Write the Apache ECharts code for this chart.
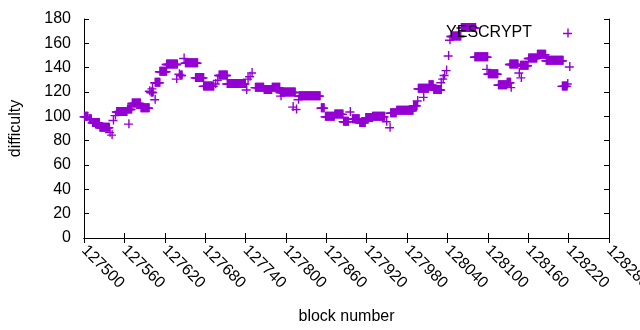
<!DOCTYPE html>
<html>
<head>
<meta charset="utf-8">
<script src="https://cdn.jsdelivr.net/npm/echarts@6/dist/echarts.min.js"></script>
<style>
  html, body { margin: 0; padding: 0; background: #fff; }
  #chart { width: 640px; height: 330px; }
</style>
</head>
<body>
<div id="chart"></div>
<script>
// tick labels
const xTicks = [127500, 127560, 127620, 127680, 127740, 127800, 127860, 127920, 127980, 128040, 128100, 128160, 128220, 128280]
const yTicks = [0, 20, 40, 60, 80, 100, 120, 140, 160, 180]

// runs of consecutive blocks with the same difficulty (first block, last block, value)
const runStart = [127500, 127507, 127512, 127523, 127538, 127541, 127543, 127546, 127548, 127564, 127566, 127571, 127584, 127597, 127599, 127601, 127605, 127605, 127612, 127622, 127637, 127641, 127643, 127648, 127650, 127665, 127677, 127695, 127698, 127700, 127712, 127741, 127743, 127746, 127749, 127754, 127767, 127779, 127792, 127791, 127810, 127815, 127818, 127819, 127852, 127858, 127872, 127885, 127895, 127898, 127909, 127918, 127928, 127949, 127954, 127955, 127964, 127989, 127995, 127996, 128004, 128012, 128019, 128030, 128033, 128035, 128038, 128041, 128043, 128045, 128060, 128080, 128098, 128100, 128115, 128128, 128134, 128132, 128146, 128149, 128148, 128160, 128173, 128186, 128210, 128218, 128221]
const runEnd = [127505, 127510, 127522, 127537, 127538, 127541, 127543, 127546, 127563, 127570, 127566, 127583, 127596, 127597, 127602, 127601, 127605, 127612, 127622, 127638, 127637, 127641, 127645, 127648, 127668, 127677, 127692, 127695, 127698, 127712, 127739, 127741, 127743, 127746, 127749, 127766, 127778, 127790, 127792, 127813, 127810, 127815, 127818, 127850, 127856, 127871, 127884, 127892, 127895, 127908, 127917, 127928, 127946, 127949, 127954, 127963, 127988, 127994, 127995, 128011, 128004, 128018, 128030, 128030, 128033, 128035, 128038, 128041, 128043, 128059, 128081, 128099, 128098, 128114, 128127, 128133, 128134, 128144, 128146, 128149, 128159, 128172, 128185, 128211, 128217, 128218, 128221]
const runValue = [100, 98, 95, 91, 87, 85, 97, 101, 104, 106, 94, 111, 107, 121, 120, 123, 114, 128, 137, 143, 131, 135, 134, 148, 144, 132, 125, 127, 130, 134, 127, 122, 131, 133, 136, 124, 122, 124, 117, 120, 108, 106, 114, 117, 107, 100, 102, 96, 104, 98, 95, 99, 100, 96, 91, 103, 105, 109, 113, 123, 116, 126, 122, 128, 131, 134, 138, 150, 163, 166, 173, 149, 139, 135, 126, 128, 124, 143, 136, 132, 142, 148, 151, 146, 125, 127, 141]

const seriesName = 'YESCRYPT'

let points = []
runStart.forEach((start, i) => {
    for (let b = start; b <= runEnd[i]; b++) {
        points.push([b, runValue[i]])
    }
})

const plus = 'path://M0,4.3H9V5.7H0Z M4.3,0H5.7V9H4.3Z'
const color = '#9400d3'
const font = 'Liberation Sans'

let myChart = echarts.init(document.getElementById('chart'), null, { renderer: 'canvas' })

let axisCommon = {
    axisLine: { show: true, lineStyle: { color: '#000', width: 1 } },
    axisTick: { show: true, inside: true, length: 5, lineStyle: { color: '#000' } },
    splitLine: { show: false }
}

let option = {
    animation: false,
    backgroundColor: '#fff',
    textStyle: { fontFamily: font },
    grid: { left: 84, right: 31, top: 19, bottom: 92, containLabel: false, outerBoundsMode: 'none' },
    legend: {
        data: [seriesName],
        right: 63,
        top: 20,
        align: 'right',
        icon: plus,
        itemWidth: 9,
        itemHeight: 9,
        textStyle: { fontFamily: font, fontSize: 16, color: '#000', padding: [0, 26, 0, 0] }
    },
    xAxis: [{
        type: 'value',
        position: 'bottom',
        min: xTicks[0],
        max: xTicks[xTicks.length - 1],
        interval: xTicks[1] - xTicks[0],
        name: 'block number',
        nameLocation: 'middle',
        nameGap: 71,
        nameTextStyle: { fontFamily: font, fontSize: 16, color: '#000' },
        axisLabel: {
            rotate: -45,
            margin: 10,
            fontFamily: font,
            fontSize: 16,
            color: '#000',
            formatter: function (value) { return String(value) }
        },
        ...axisCommon
    }, {
        type: 'value',
        position: 'top',
        min: xTicks[0],
        max: xTicks[xTicks.length - 1],
        interval: xTicks[1] - xTicks[0],
        axisLabel: { show: false },
        ...axisCommon
    }],
    yAxis: [{
        type: 'value',
        position: 'left',
        min: yTicks[0],
        max: yTicks[yTicks.length - 1],
        interval: yTicks[1] - yTicks[0],
        name: 'difficulty',
        nameLocation: 'middle',
        nameGap: 60,
        nameTextStyle: { fontFamily: font, fontSize: 16, color: '#000' },
        axisLabel: { margin: 13, fontFamily: font, fontSize: 16, color: '#000' },
        ...axisCommon
    }, {
        type: 'value',
        position: 'right',
        min: yTicks[0],
        max: yTicks[yTicks.length - 1],
        interval: yTicks[1] - yTicks[0],
        axisLabel: { show: false },
        ...axisCommon
    }],
    series: [{
        name: seriesName,
        type: 'scatter',
        xAxisIndex: 0,
        yAxisIndex: 0,
        symbol: plus,
        symbolSize: 9,
        itemStyle: { color: color, opacity: 1 },
        data: points
    }]
}

myChart.setOption(option)
</script>
</body>
</html>
